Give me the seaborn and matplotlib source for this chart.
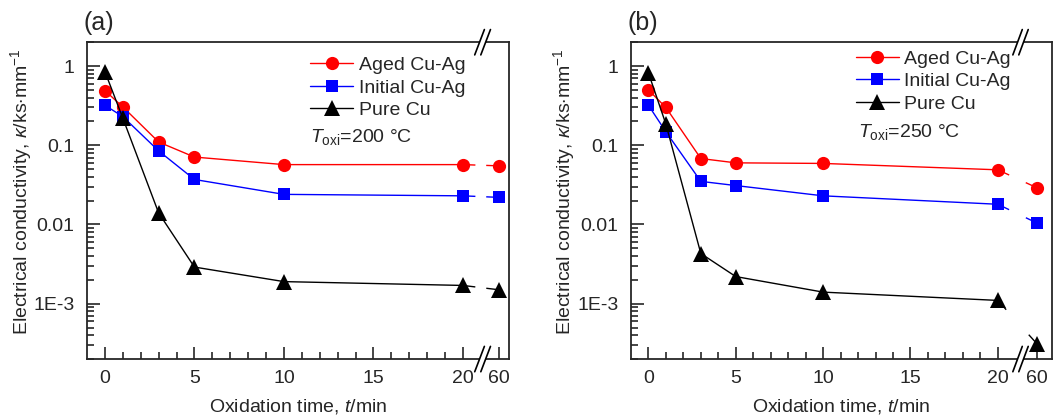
import matplotlib
matplotlib.use('Agg')
import matplotlib.pyplot as plt
import matplotlib.transforms as mtransforms
from matplotlib.lines import Line2D
from matplotlib.patches import Rectangle
import numpy as np
import pandas as pd
import seaborn as sns

# oxidation times (min); 60 min sits after the axis break
times = [0, 1, 3, 5, 10, 20, 60]
samples = ['Aged Cu-Ag', 'Initial Cu-Ag', 'Pure Cu']

# (a) T_oxi = 200 C
aged_200 = [0.49, 0.305, 0.11, 0.071, 0.057, 0.057, 0.055]
initial_200 = [0.32, 0.23, 0.085, 0.037, 0.024, 0.023, 0.022]
pure_200 = [0.85, 0.22, 0.014, 0.0029, 0.0019, 0.0017, 0.0015]

# (b) T_oxi = 250 C
aged_250 = [0.50, 0.30, 0.068, 0.060, 0.059, 0.049, 0.029]
initial_250 = [0.32, 0.148, 0.035, 0.031, 0.023, 0.018, 0.0104]
pure_250 = [0.82, 0.185, 0.0043, 0.0022, 0.0014, 0.0011, 0.00031]

panel_labels = ['(a)', '(b)']
temps = ['200', '250']
xtick_labels = ['0', '5', '10', '15', '20', '60']

colors = {'Aged Cu-Ag': '#ff0000', 'Initial Cu-Ag': '#0000ff', 'Pure Cu': '#000000'}
markers = {'Aged Cu-Ag': 'o', 'Initial Cu-Ag': 's', 'Pure Cu': '^'}
msizes = {'Aged Cu-Ag': 9.5, 'Initial Cu-Ag': 8.5, 'Pure Cu': 11}

sns.set_style('ticks')
plt.rcParams['font.family'] = ['Liberation Sans', 'DejaVu Sans']
plt.rcParams['mathtext.fontset'] = 'custom'
plt.rcParams['mathtext.rm'] = 'Liberation Sans'
plt.rcParams['mathtext.it'] = 'Liberation Sans:italic'
plt.rcParams['mathtext.cal'] = 'Liberation Sans'

FS = 14

fig = plt.figure(figsize=(10.64, 4.18), dpi=100)

panels = [
    dict(vals=[aged_200, initial_200, pure_200], pos60=22.0, brk=21.1, xmax=22.6,
         rect=[0.0818, 0.141, 0.397, 0.758], leg=(0.529, 0.955), txt=(0.527, 0.70),
         ylab_x=-0.125),
    dict(vals=[aged_250, initial_250, pure_250], pos60=22.25, brk=21.3, xmax=23.1,
         rect=[0.593, 0.141, 0.3957, 0.758], leg=(0.534, 0.975), txt=(0.539, 0.716),
         ylab_x=-0.128),
]

for i, p in enumerate(panels):
    ax = fig.add_axes(p['rect'])
    pos = [t if t <= 20 else p['pos60'] for t in times]
    rows = []
    for s, v in zip(samples, p['vals']):
        for t, x, y in zip(times, pos, v):
            rows.append({'sample': s, 'time': t, 'pos': x, 'kappa': y})
    df = pd.DataFrame(rows)

    ax.set_yscale('log')
    ax.set_xlim(-1, p['xmax'])
    ax.set_ylim(2e-4, 2)

    for s in samples:
        d = df[df['sample'] == s]
        main = d[d['time'] <= 20]
        last = d[d['time'] > 20]
        sns.lineplot(data=main, x='pos', y='kappa', color=colors[s], marker=markers[s],
                     markersize=msizes[s], mec=colors[s], mew=0, lw=1, ax=ax, zorder=3)
        sns.lineplot(data=last, x='pos', y='kappa', color=colors[s], marker=markers[s],
                     markersize=msizes[s], mec=colors[s], mew=0, lw=1, ax=ax, zorder=3)
        # dashed link across the break
        x0, y0 = main['pos'].iloc[-1], main['kappa'].iloc[-1]
        x1, y1 = last['pos'].iloc[0], last['kappa'].iloc[0]
        p0 = ax.transData.transform((x0, y0))
        p1 = ax.transData.transform((x1, y1))
        L = np.hypot(*(p1 - p0)) * 72 / 100
        dash = 9
        ax.plot([x0, x1], [y0, y1], color=colors[s], lw=1,
                ls=(0, (dash, max(L - 2 * dash, 1))), zorder=2)

    ax.set_xticks([0, 5, 10, 15, 20, p['pos60']])
    ax.set_xticklabels(xtick_labels)
    ax.set_xticks([t for t in range(1, 20) if t % 5 != 0], minor=True)
    ax.set_yticks([1, 0.1, 0.01, 0.001])
    ax.set_yticklabels(['1', '0.1', '0.01', '1E-3'])
    ax.yaxis.set_minor_locator(matplotlib.ticker.LogLocator(base=10, subs=np.arange(2, 10)))
    ax.yaxis.set_minor_formatter(matplotlib.ticker.NullFormatter())
    ax.tick_params(which='both', direction='in', width=1.2, labelsize=FS, top=False, right=False)
    ax.tick_params(which='major', length=9)
    ax.tick_params(which='minor', length=5)
    ax.tick_params(axis='x', pad=8)
    ax.tick_params(axis='y', pad=9)
    for sp in ax.spines.values():
        sp.set_linewidth(1.3)
        sp.set_visible(True)

    ax.set_xlabel(r'Oxidation time, $t$/min', fontsize=FS)
    ax.set_ylabel(r'Electrical conductivity, $\kappa$/ks$\cdot$mm$^{-1}$', fontsize=FS)
    ax.xaxis.set_label_coords(0.5, -0.12)
    ax.yaxis.set_label_coords(p['ylab_x'], 0.53)

    handles = [Line2D([], [], color=colors[s], marker=markers[s], markersize=msizes[s],
                      mew=0, lw=1) for s in samples]
    ax.legend(handles, samples, loc='upper left', bbox_to_anchor=p['leg'], frameon=False,
              fontsize=FS, handlelength=2.2, handletextpad=0.3, labelspacing=0.25,
              borderpad=0, borderaxespad=0)
    ax.text(p['txt'][0], p['txt'][1], r'$T_{\mathrm{oxi}}$=' + temps[i] + ' °C',
            transform=ax.transAxes, fontsize=FS, ha='left', va='center')
    ax.text(-0.008, 1.06, panel_labels[i], transform=ax.transAxes, fontsize=18,
            ha='left', va='center')

    # axis break marks on the bottom and top spines
    tr = mtransforms.blended_transform_factory(ax.transData, ax.transAxes)
    for yb in (0, 1):
        ax.add_patch(Rectangle((p['brk'] - 0.17, yb - 0.012), 0.34, 0.024, transform=tr,
                               facecolor='white', edgecolor='none', clip_on=False, zorder=5))
        for dx in (-0.17, 0.17):
            ax.plot([p['brk'] + dx - 0.27, p['brk'] + dx + 0.27], [yb - 0.04, yb + 0.04],
                    transform=tr, color='black', lw=1.2, clip_on=False, zorder=6)

fig.savefig('out.png', dpi=100)
